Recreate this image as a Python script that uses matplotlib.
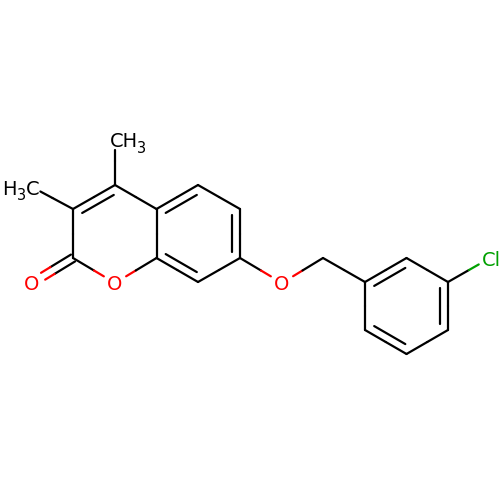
import numpy as np
import matplotlib
matplotlib.use('Agg')
import matplotlib.pyplot as plt

# atom positions, in pixels
atom_names = ['C4', 'C3', 'C2', 'O1', 'C8a', 'C4a', 'C5', 'C6', 'C7', 'C8', 'O7', 'CH2',
              'C1p', 'C2p', 'C3p', 'C4p', 'C5p', 'C6p', 'Cl', 'O2', 'Me4', 'Me3']
atom_x = [115, 73, 73, 115, 156.5, 156.5, 198, 240, 240, 198, 282, 323,
          365, 406.5, 448, 448, 406.5, 365, 490, 32, 115, 32]
atom_y = [185, 209, 258, 283, 258, 209, 185, 209, 258, 282, 283, 258,
          282, 258, 282, 330, 354, 330, 258, 283, 137, 187]

bond_from = ['C4', 'C3', 'C2', 'O1', 'C8a', 'C4a', 'C4a', 'C5', 'C6', 'C7', 'C8',
             'C7', 'O7', 'CH2',
             'C1p', 'C2p', 'C3p', 'C4p', 'C5p', 'C6p',
             'C3p', 'C2', 'C4', 'C3']
bond_to = ['C3', 'C2', 'O1', 'C8a', 'C4a', 'C4', 'C5', 'C6', 'C7', 'C8', 'C8a',
           'O7', 'CH2', 'C1p',
           'C2p', 'C3p', 'C4p', 'C5p', 'C6p', 'C1p',
           'Cl', 'O2', 'Me4', 'Me3']
bond_order = [2, 1, 1, 1, 1, 1, 2, 1, 2, 1, 2,
              1, 1, 1,
              2, 1, 2, 1, 2, 1,
              1, 2, 1, 1]

label_colors = {'O1': '#ff0000', 'O7': '#ff0000', 'O2': '#ff0000', 'Cl': '#00a000'}
label_gap = {'O1': 13, 'O7': 13, 'O2': 13, 'Cl': 13, 'Me4': 13, 'Me3': 9.5}
ring_centers = [(115, 233), (198, 233), (406.5, 306)]

# text pieces: the subscripts sit lower than mathtext would put them
text_strings = ['O', 'O', 'O', 'Cl', 'CH', '3', 'H', '3', 'C']
text_x = [115, 281.5, 32, 482, 109.5, 136.5, 2.5, 16.5, 26]
text_y = [290, 290, 290, 266, 147, 153, 195, 200, 195]
text_sizes = [14, 14, 14, 14, 14, 10.5, 14, 10.5, 14]
text_colors = ['#ff0000', '#ff0000', '#ff0000', '#00a000', 'k', 'k', 'k', 'k', 'k']
text_align = ['center', 'center', 'center', 'left', 'left', 'left', 'left', 'left', 'left']

pos = {n: np.array([x, y], float) for n, x, y in zip(atom_names, atom_x, atom_y)}
LW = 1.6

fig = plt.figure(figsize=(5, 5), dpi=100)
ax = fig.add_axes((0, 0, 1, 1))
ax.set_xlim(0, 500)
ax.set_ylim(500, 0)
ax.axis('off')


def draw_segment(p, q, a, b):
    # half of the bond takes the colour of the atom at that end
    mid = (p + q) / 2
    d = (q - p) / np.linalg.norm(q - p)
    start = p + d * label_gap.get(a, 0)
    end = q - d * label_gap.get(b, 0)
    ax.plot([start[0], mid[0]], [start[1], mid[1]], color=label_colors.get(a, 'k'),
            lw=LW, solid_capstyle='round')
    ax.plot([mid[0], end[0]], [mid[1], end[1]], color=label_colors.get(b, 'k'),
            lw=LW, solid_capstyle='round')


for a, b, order in zip(bond_from, bond_to, bond_order):
    p, q = pos[a], pos[b]
    if order == 1:
        draw_segment(p, q, a, b)
        continue
    d = (q - p) / np.linalg.norm(q - p)
    n = np.array([-d[1], d[0]])
    if 'O2' in (a, b):
        # carbonyl: two lines side by side
        draw_segment(p - n * 4, q - n * 4, a, b)
        draw_segment(p + n * 4, q + n * 4, a, b)
        continue
    draw_segment(p, q, a, b)
    mid = (p + q) / 2
    center = min(ring_centers, key=lambda c: np.linalg.norm(np.array(c) - mid))
    if np.dot(np.array(center) - mid, n) < 0:
        n = -n
    s = p + n * 8 + d * 6
    e = q + n * 8 - d * 6
    ax.plot([s[0], e[0]], [s[1], e[1]], color='k', lw=LW, solid_capstyle='round')

for s, x, y, size, c, ha in zip(text_strings, text_x, text_y, text_sizes, text_colors, text_align):
    ax.text(x, y, s, color=c, fontsize=size, ha=ha, va='baseline', family='DejaVu Sans')

fig.savefig('out.png', dpi=100, facecolor='white')
